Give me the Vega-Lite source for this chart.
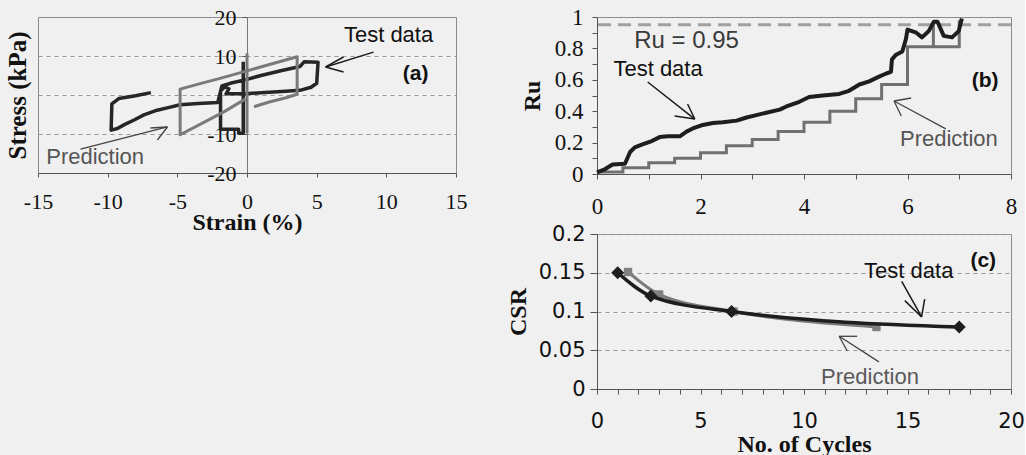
{
  "$schema": "https://vega.github.io/schema/vega-lite/v6.json",
  "background": "#f0f0f0",
  "padding": {"left": 4, "top": 5, "right": 0, "bottom": 0},
  "spacing": 37,
  "config": {
    "view": {"stroke": "#8c8c8c", "strokeWidth": 1},
    "axis": {"domainColor": "#555", "tickColor": "#555", "labelColor": "#111", "titleColor": "#111", "titleFont": "Liberation Serif", "titleFontWeight": "bold", "labelFont": "Liberation Serif", "grid": false, "labelOverlap": false, "labelFlush": false}
  },
  "datasets": {
    "aTest": [
      {"x": -0.27, "y": 8.5}, {"x": -0.27, "y": -9.8}, {"x": -0.6, "y": -9.8}, {"x": -0.6, "y": -8.8}, {"x": -1.9, "y": -8.8}, {"x": -1.9, "y": 1.0}, {"x": -1.6, "y": 2.1}, {"x": -1.3, "y": 1.6}, {"x": -1.5, "y": 0.3}, {"x": -0.2, "y": 0.3},
      {"x": 1.0, "y": 0.6}, {"x": 2.5, "y": 0.9}, {"x": 3.8, "y": 1.2}, {"x": 4.6, "y": 2.0}, {"x": 5.0, "y": 3.0}, {"x": 5.1, "y": 8.4}, {"x": 4.1, "y": 8.5}, {"x": 3.8, "y": 7.3}, {"x": 2.5, "y": 6.3}, {"x": 1.0, "y": 5.0}, {"x": 0, "y": 4.0}, {"x": -1.2, "y": 3.0}, {"x": -1.8, "y": 2.3}, {"x": -2.1, "y": -1.9}, {"x": -3.5, "y": -2.2}, {"x": -4.8, "y": -2.5}, {"x": -5.5, "y": -3.1}, {"x": -6.45, "y": -3.9}, {"x": -7.4, "y": -5.1}, {"x": -8.1, "y": -6.4}, {"x": -8.8, "y": -7.6}, {"x": -9.3, "y": -8.6}, {"x": -9.75, "y": -9.0}, {"x": -9.7, "y": -2.3}, {"x": -9.2, "y": -0.9}, {"x": -8.0, "y": -0.2}, {"x": -6.9, "y": 0.6}
    ],
    "aPred": [
      {"s": 1, "x": 0, "y": -9.8}, {"s": 1, "x": 0, "y": 10.7},
      {"s": 2, "x": 0.5, "y": -3.0}, {"s": 2, "x": 1.6, "y": -1.8}, {"s": 2, "x": 2.8, "y": -0.7}, {"s": 2, "x": 3.6, "y": 0.2}, {"s": 2, "x": 3.6, "y": 9.8}, {"s": 2, "x": 2.0, "y": 8.2}, {"s": 2, "x": 0, "y": 6.2}, {"s": 2, "x": -2.0, "y": 4.2}, {"s": 2, "x": -3.5, "y": 2.8}, {"s": 2, "x": -4.8, "y": 1.5}, {"s": 2, "x": -4.8, "y": -10.2}, {"s": 2, "x": -3.2, "y": -7.2}, {"s": 2, "x": -1.6, "y": -4.2}, {"s": 2, "x": -0.1, "y": -1.0}
    ],
    "bTest": [
      {"x": 0, "y": 0.01}, {"x": 0.15, "y": 0.03}, {"x": 0.3, "y": 0.06}, {"x": 0.54, "y": 0.065}, {"x": 0.64, "y": 0.14}, {"x": 0.73, "y": 0.17}, {"x": 0.89, "y": 0.19}, {"x": 1.06, "y": 0.21}, {"x": 1.21, "y": 0.235}, {"x": 1.37, "y": 0.24}, {"x": 1.6, "y": 0.24}, {"x": 1.73, "y": 0.27}, {"x": 1.85, "y": 0.29}, {"x": 2.02, "y": 0.31}, {"x": 2.24, "y": 0.325}, {"x": 2.43, "y": 0.33}, {"x": 2.7, "y": 0.34}, {"x": 2.89, "y": 0.36}, {"x": 3.08, "y": 0.375}, {"x": 3.27, "y": 0.39}, {"x": 3.53, "y": 0.41}, {"x": 3.66, "y": 0.43}, {"x": 3.91, "y": 0.46}, {"x": 4.1, "y": 0.49}, {"x": 4.36, "y": 0.5}, {"x": 4.68, "y": 0.51}, {"x": 4.87, "y": 0.53}, {"x": 5.07, "y": 0.57}, {"x": 5.26, "y": 0.59}, {"x": 5.45, "y": 0.62}, {"x": 5.59, "y": 0.64}, {"x": 5.68, "y": 0.65}, {"x": 5.7, "y": 0.73}, {"x": 5.78, "y": 0.76}, {"x": 5.9, "y": 0.78}, {"x": 5.97, "y": 0.86}, {"x": 6.0, "y": 0.92}, {"x": 6.17, "y": 0.9}, {"x": 6.28, "y": 0.87}, {"x": 6.41, "y": 0.91}, {"x": 6.51, "y": 0.97}, {"x": 6.58, "y": 0.97}, {"x": 6.7, "y": 0.88}, {"x": 6.86, "y": 0.87}, {"x": 6.99, "y": 0.91}, {"x": 7.05, "y": 0.99}
    ],
    "bPred": [
      {"x": 0, "y": 0.013}, {"x": 0.5, "y": 0.013}, {"x": 0.5, "y": 0.04}, {"x": 1.0, "y": 0.04}, {"x": 1.0, "y": 0.072}, {"x": 1.5, "y": 0.072}, {"x": 1.5, "y": 0.1}, {"x": 2.0, "y": 0.1}, {"x": 2.0, "y": 0.135}, {"x": 2.5, "y": 0.135}, {"x": 2.5, "y": 0.18}, {"x": 3.0, "y": 0.18}, {"x": 3.0, "y": 0.22}, {"x": 3.5, "y": 0.22}, {"x": 3.5, "y": 0.27}, {"x": 4.0, "y": 0.27}, {"x": 4.0, "y": 0.33}, {"x": 4.5, "y": 0.33}, {"x": 4.5, "y": 0.4}, {"x": 5.0, "y": 0.4}, {"x": 5.0, "y": 0.48}, {"x": 5.5, "y": 0.48}, {"x": 5.5, "y": 0.57}, {"x": 6.0, "y": 0.57}, {"x": 6.0, "y": 0.81}, {"x": 6.5, "y": 0.81}, {"x": 6.5, "y": 0.97}, {"x": 6.5, "y": 0.81}, {"x": 7.0, "y": 0.81}, {"x": 7.0, "y": 0.98}
    ],
    "cTest": [
      {"n": 1.0, "csr": 0.15}, {"n": 2.6, "csr": 0.12}, {"n": 6.5, "csr": 0.1}, {"n": 17.5, "csr": 0.08}
    ],
    "cPred": [
      {"n": 1.5, "csr": 0.151}, {"n": 3.0, "csr": 0.122}, {"n": 6.6, "csr": 0.1}, {"n": 13.5, "csr": 0.08}
    ]
  },
  "hconcat": [
    {
      "width": 418,
      "height": 156,
      "layer": [
        {
          "data": {"name": "aTest"},
          "mark": {"type": "line", "color": "#262626", "strokeWidth": 3.5, "strokeJoin": "round"},
          "encoding": {
            "x": {"field": "x", "type": "quantitative", "scale": {"domain": [-15, 15], "nice": false, "zero": false}, "axis": {"values": [-15, -10, -5, 0, 5, 10, 15], "tickCount": 40, "labelExpr": "replace(format(datum.value, '~g'), '−', '-')", "title": "Strain (%)", "titleFontSize": 24, "labelFontSize": 22, "tickSize": 4, "labelPadding": 14, "titlePadding": -2}},
            "y": {"field": "y", "type": "quantitative", "scale": {"domain": [-20, 20], "nice": false, "zero": false}, "axis": {"orient": "left", "title": "Stress (kPa)", "titleFontSize": 25, "labels": false, "ticks": false, "domain": false, "grid": true, "values": [-10, 0, 10], "tickCount": 40, "gridDash": [4, 4], "gridColor": "#9a9a9a", "titlePadding": 8}},
            "order": {"value": null}
          }
        },
        {
          "data": {"name": "aPred"},
          "mark": {"type": "line", "color": "#7a7a7a", "strokeWidth": 3, "strokeJoin": "round"},
          "encoding": {
            "x": {"field": "x", "type": "quantitative", "scale": {"domain": [-15, 15], "nice": false, "zero": false}},
            "y": {"field": "y", "type": "quantitative", "scale": {"domain": [-20, 20], "nice": false, "zero": false}, "axis": {"orient": "left", "offset": -209, "title": null, "values": [-20, -10, 0, 10, 20], "tickCount": 40, "labelExpr": "datum.value == 0 ? '' : replace(format(datum.value, '~g'), '−', '-')", "labelFontSize": 22, "tickSize": 5, "labelPadding": 6, "domainColor": "#777"}},
            "detail": {"field": "s"},
            "order": {"value": null}
          }
        },
        {
          "data": {"values": [
            {"x": 9.08, "y": 11.0, "x2": 5.64, "y2": 7.2},
            {"x": 5.64, "y": 7.2, "x2": 6.93, "y2": 9.74},
            {"x": 5.64, "y": 7.2, "x2": 6.93, "y2": 5.9}
          ]},
          "mark": {"type": "rule", "color": "#1a1a1a", "strokeWidth": 1.5},
          "encoding": {"x": {"field": "x", "type": "quantitative", "scale": {"domain": [-15, 15], "nice": false, "zero": false}}, "y": {"field": "y", "type": "quantitative", "scale": {"domain": [-20, 20], "nice": false, "zero": false}, "axis": null}, "x2": {"field": "x2"}, "y2": {"field": "y2"}}
        },
        {
          "data": {"values": [
            {"x": -11.95, "y": -13.85, "x2": -5.71, "y2": -8.2},
            {"x": -5.71, "y": -8.2, "x2": -6.93, "y2": -8.46},
            {"x": -5.71, "y": -8.2, "x2": -6.43, "y2": -11.54}
          ]},
          "mark": {"type": "rule", "color": "#444", "strokeWidth": 1.3},
          "encoding": {"x": {"field": "x", "type": "quantitative", "scale": {"domain": [-15, 15], "nice": false, "zero": false}}, "y": {"field": "y", "type": "quantitative", "scale": {"domain": [-20, 20], "nice": false, "zero": false}, "axis": null}, "x2": {"field": "x2"}, "y2": {"field": "y2"}}
        },
        {
          "data": {"values": [{"x": 10.16, "y": 15.4, "t": "Test data"}]},
          "mark": {"type": "text", "font": "Liberation Sans", "fontSize": 22, "color": "#111"},
          "encoding": {"x": {"field": "x", "type": "quantitative", "scale": {"domain": [-15, 15], "nice": false, "zero": false}}, "y": {"field": "y", "type": "quantitative", "scale": {"domain": [-20, 20], "nice": false, "zero": false}, "axis": null}, "text": {"field": "t"}}
        },
        {
          "data": {"values": [{"x": -10.9, "y": -15.9, "t": "Prediction"}]},
          "mark": {"type": "text", "font": "Liberation Sans", "fontSize": 22, "color": "#555"},
          "encoding": {"x": {"field": "x", "type": "quantitative", "scale": {"domain": [-15, 15], "nice": false, "zero": false}}, "y": {"field": "y", "type": "quantitative", "scale": {"domain": [-20, 20], "nice": false, "zero": false}, "axis": null}, "text": {"field": "t"}}
        },
        {
          "data": {"values": [{"x": 12.1, "y": 5.4, "t": "(a)"}]},
          "mark": {"type": "text", "font": "Liberation Sans", "fontSize": 21, "fontWeight": "bold", "color": "#111"},
          "encoding": {"x": {"field": "x", "type": "quantitative", "scale": {"domain": [-15, 15], "nice": false, "zero": false}}, "y": {"field": "y", "type": "quantitative", "scale": {"domain": [-20, 20], "nice": false, "zero": false}, "axis": null}, "text": {"field": "t"}}
        }
      ],
      "resolve": {"axis": {"y": "independent"}}
    },
    {
      "spacing": 3,
      "vconcat": [
        {
          "width": 414,
          "height": 157,
          "layer": [
            {
              "data": {"values": [{}]},
              "mark": {"type": "rule", "color": "#a0a0a0", "strokeWidth": 3, "strokeDash": [13, 7]},
              "encoding": {"y": {"datum": 0.95, "type": "quantitative"}}
            },
            {
              "data": {"name": "bPred"},
              "mark": {"type": "line", "color": "#707070", "strokeWidth": 3},
              "encoding": {
                "x": {"field": "x", "type": "quantitative", "scale": {"domain": [0, 8]}, "axis": {"values": [0, 1, 2, 3, 4, 5, 6, 7, 8], "tickCount": 40, "labelExpr": "datum.value % 2 == 0 ? format(datum.value, '~g') : ''", "labelFontSize": 23, "tickSize": 5, "labelPadding": 16, "title": null}},
                "y": {"field": "y", "type": "quantitative", "scale": {"domain": [0, 1]}, "axis": {"values": [0, 0.1, 0.2, 0.3, 0.4, 0.5, 0.6, 0.7, 0.8, 0.9, 1], "tickCount": 40, "labelExpr": "round(datum.value * 10) % 2 == 0 ? format(datum.value, '~g') : ''", "labelFontSize": 23, "tickSize": 5, "labelPadding": 9, "title": "Ru", "titleFontSize": 24, "titlePadding": 10}},
                "order": {"value": null}
              }
            },
            {
              "data": {"name": "bTest"},
              "mark": {"type": "line", "color": "#1e1e1e", "strokeWidth": 4, "strokeJoin": "round"},
              "encoding": {
                "x": {"field": "x", "type": "quantitative"},
                "y": {"field": "y", "type": "quantitative"},
                "order": {"value": null}
              }
            },
            {
              "data": {"values": [
                {"x": 0.98, "y": 0.586, "x2": 1.89, "y2": 0.35},
                {"x": 1.89, "y": 0.35, "x2": 1.5, "y2": 0.369},
                {"x": 1.89, "y": 0.35, "x2": 1.75, "y2": 0.446}
              ]},
              "mark": {"type": "rule", "color": "#1a1a1a", "strokeWidth": 1.5},
              "encoding": {"x": {"field": "x", "type": "quantitative"}, "y": {"field": "y", "type": "quantitative"}, "x2": {"field": "x2"}, "y2": {"field": "y2"}}
            },
            {
              "data": {"values": [
                {"x": 6.74, "y": 0.287, "x2": 5.74, "y2": 0.465},
                {"x": 5.74, "y": 0.465, "x2": 6.07, "y2": 0.484},
                {"x": 5.74, "y": 0.465, "x2": 5.88, "y2": 0.369}
              ]},
              "mark": {"type": "rule", "color": "#444", "strokeWidth": 1.3},
              "encoding": {"x": {"field": "x", "type": "quantitative"}, "y": {"field": "y", "type": "quantitative"}, "x2": {"field": "x2"}, "y2": {"field": "y2"}}
            },
            {
              "data": {"values": [{"x": 1.73, "y": 0.847, "t": "Ru = 0.95"}]},
              "mark": {"type": "text", "font": "Liberation Sans", "fontSize": 24, "color": "#3a3a3a"},
              "encoding": {"x": {"field": "x", "type": "quantitative"}, "y": {"field": "y", "type": "quantitative"}, "text": {"field": "t"}}
            },
            {
              "data": {"values": [{"x": 1.18, "y": 0.669, "t": "Test data"}]},
              "mark": {"type": "text", "font": "Liberation Sans", "fontSize": 22, "color": "#111"},
              "encoding": {"x": {"field": "x", "type": "quantitative"}, "y": {"field": "y", "type": "quantitative"}, "text": {"field": "t"}}
            },
            {
              "data": {"values": [{"x": 6.8, "y": 0.223, "t": "Prediction"}]},
              "mark": {"type": "text", "font": "Liberation Sans", "fontSize": 22, "color": "#555"},
              "encoding": {"x": {"field": "x", "type": "quantitative"}, "y": {"field": "y", "type": "quantitative"}, "text": {"field": "t"}}
            },
            {
              "data": {"values": [{"x": 7.5, "y": 0.59, "t": "(b)"}]},
              "mark": {"type": "text", "font": "Liberation Sans", "fontSize": 21, "fontWeight": "bold", "color": "#111"},
              "encoding": {"x": {"field": "x", "type": "quantitative"}, "y": {"field": "y", "type": "quantitative"}, "text": {"field": "t"}}
            }
          ]
        },
        {
          "width": 414,
          "height": 155,
          "layer": [
            {
              "data": {"name": "cPred"},
              "mark": {"type": "line", "color": "#7a7a7a", "strokeWidth": 3, "interpolate": "monotone"},
              "encoding": {
                "x": {"field": "n", "type": "quantitative", "scale": {"domain": [0, 20]}, "axis": {"values": [0, 1, 2, 3, 4, 5, 6, 7, 8, 9, 10, 11, 12, 13, 14, 15, 16, 17, 18, 19, 20], "tickCount": 40, "labelExpr": "datum.value % 5 == 0 ? format(datum.value, '~g') : ''", "labelFont": "DejaVu Sans", "labelFontSize": 21, "tickSize": 5, "labelPadding": 16, "title": "No. of Cycles", "titleFontSize": 24, "titlePadding": 1}},
                "y": {"field": "csr", "type": "quantitative", "scale": {"domain": [0, 0.2]}, "axis": {"values": [0, 0.05, 0.1, 0.15, 0.2], "tickCount": 40, "labelExpr": "format(datum.value, '~g')", "labelFont": "DejaVu Sans", "labelFontSize": 21, "tickSize": 7, "labelPadding": 5, "grid": true, "gridDash": [4, 4], "gridColor": "#9a9a9a", "title": "CSR", "titleFontSize": 24, "titlePadding": 8}}
              }
            },
            {
              "data": {"name": "cPred"},
              "mark": {"type": "point", "shape": "square", "filled": true, "color": "#808080", "size": 70, "opacity": 1},
              "encoding": {"x": {"field": "n", "type": "quantitative"}, "y": {"field": "csr", "type": "quantitative"}}
            },
            {
              "data": {"name": "cTest"},
              "mark": {"type": "line", "color": "#1e1e1e", "strokeWidth": 3.5, "interpolate": "monotone"},
              "encoding": {"x": {"field": "n", "type": "quantitative"}, "y": {"field": "csr", "type": "quantitative"}}
            },
            {
              "data": {"name": "cTest"},
              "mark": {"type": "point", "shape": "diamond", "filled": true, "color": "#1e1e1e", "size": 170, "opacity": 1},
              "encoding": {"x": {"field": "n", "type": "quantitative"}, "y": {"field": "csr", "type": "quantitative"}}
            },
            {
              "data": {"values": [
                {"x": 14.72, "y": 0.139, "x2": 15.68, "y2": 0.093},
                {"x": 15.68, "y": 0.093, "x2": 14.87, "y2": 0.114},
                {"x": 15.68, "y": 0.093, "x2": 15.83, "y2": 0.116}
              ]},
              "mark": {"type": "rule", "color": "#1a1a1a", "strokeWidth": 1.5},
              "encoding": {"x": {"field": "x", "type": "quantitative"}, "y": {"field": "y", "type": "quantitative"}, "x2": {"field": "x2"}, "y2": {"field": "y2"}}
            },
            {
              "data": {"values": [
                {"x": 13.62, "y": 0.035, "x2": 11.7, "y2": 0.068},
                {"x": 11.7, "y": 0.068, "x2": 12.57, "y2": 0.068},
                {"x": 11.7, "y": 0.068, "x2": 12.09, "y2": 0.049}
              ]},
              "mark": {"type": "rule", "color": "#444", "strokeWidth": 1.3},
              "encoding": {"x": {"field": "x", "type": "quantitative"}, "y": {"field": "y", "type": "quantitative"}, "x2": {"field": "x2"}, "y2": {"field": "y2"}}
            },
            {
              "data": {"values": [{"x": 15.06, "y": 0.152, "t": "Test data"}]},
              "mark": {"type": "text", "font": "Liberation Sans", "fontSize": 22, "color": "#111"},
              "encoding": {"x": {"field": "x", "type": "quantitative"}, "y": {"field": "y", "type": "quantitative"}, "text": {"field": "t"}}
            },
            {
              "data": {"values": [{"x": 13.19, "y": 0.0155, "t": "Prediction"}]},
              "mark": {"type": "text", "font": "Liberation Sans", "fontSize": 22, "color": "#5a5a5a"},
              "encoding": {"x": {"field": "x", "type": "quantitative"}, "y": {"field": "y", "type": "quantitative"}, "text": {"field": "t"}}
            },
            {
              "data": {"values": [{"x": 18.66, "y": 0.165, "t": "(c)"}]},
              "mark": {"type": "text", "font": "Liberation Sans", "fontSize": 21, "fontWeight": "bold", "color": "#111"},
              "encoding": {"x": {"field": "x", "type": "quantitative"}, "y": {"field": "y", "type": "quantitative"}, "text": {"field": "t"}}
            }
          ]
        }
      ]
    }
  ]
}
